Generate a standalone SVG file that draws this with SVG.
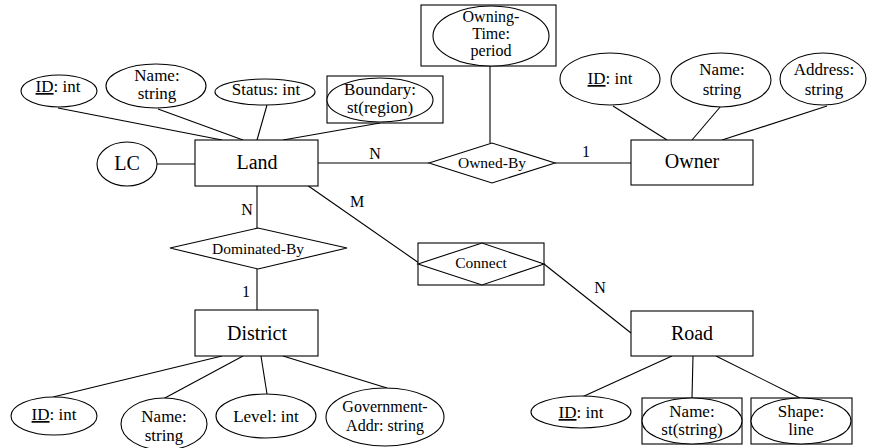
<svg xmlns="http://www.w3.org/2000/svg" width="875" height="448" viewBox="0 0 875 448">
<style>
.s{fill:#fff;stroke:#000;stroke-width:1.1}
.l{stroke:#000;stroke-width:1.1;fill:none}
text{font-family:"Liberation Serif","Times New Roman",serif;fill:#000;text-anchor:middle}
.e{font-size:20px}
.a{font-size:17px}
.a2{font-size:16px}
.r{font-size:15.5px}
.c{font-size:16px}
</style>
<g id="connectors">
<line class="l" x1="58" y1="108" x2="222" y2="140"/>
<line class="l" x1="158" y1="109" x2="243" y2="140"/>
<line class="l" x1="267" y1="105" x2="257" y2="140"/>
<line class="l" x1="380" y1="123" x2="283" y2="140"/>
<line class="l" x1="157" y1="164" x2="195" y2="164"/>
<line class="l" x1="318" y1="163" x2="429" y2="163"/>
<line class="l" x1="555" y1="163" x2="631" y2="163"/>
<line class="l" x1="490" y1="66" x2="490" y2="143"/>
<line class="l" x1="613" y1="106" x2="667" y2="140"/>
<line class="l" x1="721" y1="106" x2="692" y2="140"/>
<line class="l" x1="827" y1="106" x2="722" y2="140"/>
<line class="l" x1="257" y1="186" x2="257" y2="228"/>
<line class="l" x1="257" y1="269" x2="257" y2="310"/>
<line class="l" x1="307" y1="185" x2="419" y2="263"/>
<line class="l" x1="544" y1="264" x2="631" y2="333"/>
<line class="l" x1="53" y1="397" x2="222" y2="356"/>
<line class="l" x1="163" y1="399" x2="243" y2="356"/>
<line class="l" x1="267" y1="394" x2="261" y2="356"/>
<line class="l" x1="387" y1="388" x2="283" y2="356"/>
<line class="l" x1="582" y1="397" x2="672" y2="356"/>
<line class="l" x1="692" y1="398" x2="693" y2="356"/>
<line class="l" x1="800" y1="398" x2="716" y2="356"/>
<text class="c" x="375" y="159">N</text>
<text class="c" x="586" y="157">1</text>
<text class="c" x="247" y="215">N</text>
<text class="c" x="246" y="297">1</text>
<text class="c" x="357" y="207">M</text>
<text class="c" x="600" y="293">N</text>
</g>
<g id="land">
<rect class="s" x="195" y="140" width="123" height="46"/>
<text class="e" x="257" y="169">Land</text>
</g>
<g id="land-id">
<ellipse class="s" cx="59" cy="91" rx="38" ry="16"/>
<text class="a" x="58" y="92"><tspan text-decoration="underline">ID</tspan>: int</text>
</g>
<g id="land-name">
<ellipse class="s" cx="156" cy="86" rx="50" ry="22"/>
<text class="a" x="157" y="81">Name:</text>
<text class="a" x="157" y="99">string</text>
</g>
<g id="land-status">
<ellipse class="s" cx="265" cy="92" rx="50" ry="13"/>
<text class="a" x="266" y="95">Status: int</text>
</g>
<g id="land-boundary">
<rect class="s" x="327" y="76" width="116" height="47"/>
<ellipse class="s" cx="380" cy="100" rx="53" ry="22"/>
<text class="a" x="380" y="95">Boundary:</text>
<text class="a" x="380" y="113">st(region)</text>
</g>
<g id="lc">
<ellipse class="s" cx="127" cy="164" rx="30" ry="22"/>
<text class="e" x="127" y="170">LC</text>
</g>
<g id="owned-by">
<polygon class="s" points="429,163 492,143 555,163 492,183"/>
<text class="r" x="492" y="168">Owned-By</text>
</g>
<g id="owning-time">
<rect class="s" x="421" y="5" width="135" height="61"/>
<ellipse class="s" cx="491" cy="36" rx="58" ry="30"/>
<text class="a2" x="491" y="22">Owning-</text>
<text class="a2" x="491" y="39">Time:</text>
<text class="a2" x="491" y="56">period</text>
</g>
<g id="owner">
<rect class="s" x="631" y="140" width="122" height="45"/>
<text class="e" x="692" y="168">Owner</text>
</g>
<g id="owner-id">
<ellipse class="s" cx="610" cy="79" rx="50" ry="26"/>
<text class="a" x="610" y="84"><tspan text-decoration="underline">ID</tspan>: int</text>
</g>
<g id="owner-name">
<ellipse class="s" cx="721" cy="80" rx="50" ry="27"/>
<text class="a" x="722" y="75">Name:</text>
<text class="a" x="722" y="95">string</text>
</g>
<g id="owner-address">
<ellipse class="s" cx="823" cy="79" rx="43" ry="26"/>
<text class="a" x="824" y="75">Address:</text>
<text class="a" x="824" y="95">string</text>
</g>
<g id="dominated-by">
<polygon class="s" points="170,248 258,228 347,248 258,269"/>
<text class="r" x="258" y="254">Dominated-By</text>
</g>
<g id="district">
<rect class="s" x="195" y="310" width="123" height="46"/>
<text class="e" x="257" y="340">District</text>
</g>
<g id="district-id">
<ellipse class="s" cx="54" cy="416" rx="43" ry="19"/>
<text class="a" x="54" y="420"><tspan text-decoration="underline">ID</tspan>: int</text>
</g>
<g id="district-name">
<ellipse class="s" cx="164" cy="424" rx="43" ry="26"/>
<text class="a" x="164" y="422">Name:</text>
<text class="a" x="164" y="441">string</text>
</g>
<g id="district-level">
<ellipse class="s" cx="266" cy="416" rx="50" ry="22"/>
<text class="a" x="266" y="422">Level: int</text>
</g>
<g id="district-gov">
<ellipse class="s" cx="385" cy="417" rx="59" ry="29"/>
<text class="a2" x="385" y="412">Government-</text>
<text class="a2" x="385" y="431">Addr: string</text>
</g>
<g id="connect">
<rect class="s" x="418" y="243" width="126" height="42"/>
<polygon class="s" points="418,264 482,243 544,264 482,285"/>
<text class="r" x="481" y="268">Connect</text>
</g>
<g id="road">
<rect class="s" x="631" y="311" width="122" height="45"/>
<text class="e" x="692" y="340">Road</text>
</g>
<g id="road-id">
<ellipse class="s" cx="581" cy="412" rx="50" ry="16"/>
<text class="a" x="581" y="418"><tspan text-decoration="underline">ID</tspan>: int</text>
</g>
<g id="road-name">
<rect class="s" x="642" y="398" width="100" height="46"/>
<ellipse class="s" cx="692" cy="421" rx="50" ry="23"/>
<text class="a" x="692" y="417">Name:</text>
<text class="a" x="692" y="435">st(string)</text>
</g>
<g id="road-shape">
<rect class="s" x="751" y="398" width="101" height="46"/>
<ellipse class="s" cx="801" cy="421" rx="50" ry="23"/>
<text class="a" x="801" y="417">Shape:</text>
<text class="a" x="801" y="435">line</text>
</g>
</svg>
